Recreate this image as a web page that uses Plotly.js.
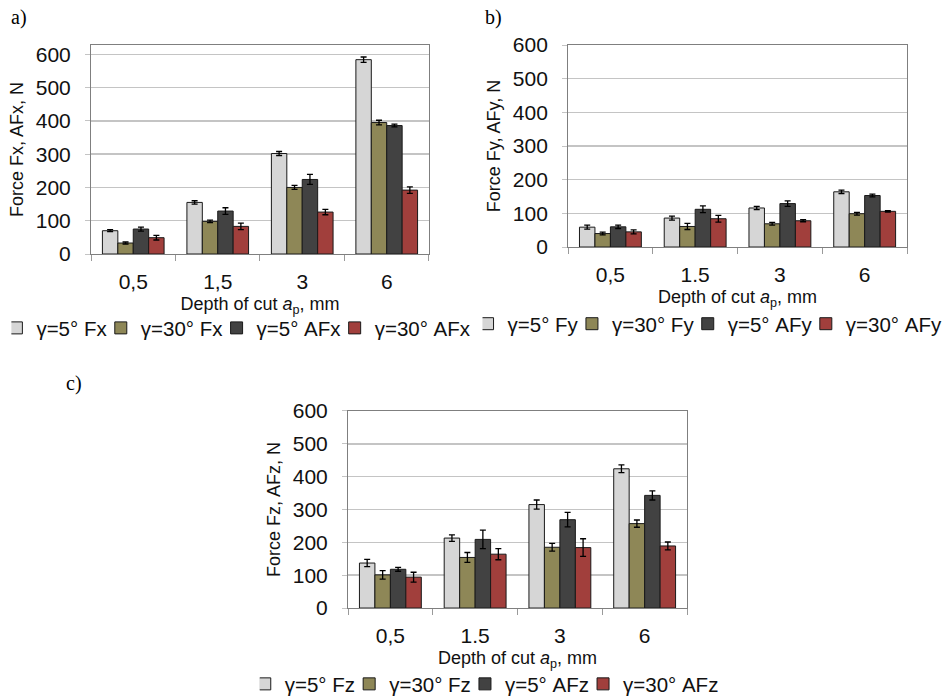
<!DOCTYPE html>
<html>
<head>
<meta charset="utf-8">
<script src="https://cdn.plot.ly/plotly-3.0.1.min.js"></script>
<style>html,body{margin:0;padding:0;background:#fff;}#chart{width:948px;height:698px;}</style>
</head>
<body>
<div id="chart"></div>
<script>
// Categories (depth of cut)
const categoriesA = ['0,5', '1,5', '3', '6'];
const categoriesB = ['0,5', '1.5', '3', '6'];
const categoriesC = ['0,5', '1.5', '3', '6'];

// a) Fx / AFx
const fx5 = [70, 155, 302, 584];
const fx5Err = [3, 5, 6, 8];
const fx30 = [33, 98, 200, 395];
const fx30Err = [3, 4, 6, 7];
const afx5 = [75, 129, 224, 386];
const afx5Err = [6, 10, 15, 4];
const afx30 = [49, 83, 126, 192];
const afx30Err = [7, 10, 8, 10];

// b) Fy / AFy
const fy5 = [59, 86, 116, 164];
const fy5Err = [6, 6, 5, 5];
const fy30 = [40, 61, 69, 99];
const fy30Err = [4, 9, 4, 4];
const afy5 = [60, 112, 129, 153];
const afy5Err = [5, 10, 8, 4];
const afy30 = [45, 84, 78, 106];
const afy30Err = [6, 10, 3, 2];

// c) Fz / AFz
const fz5 = [137, 213, 315, 424];
const fz5Err = [11, 10, 14, 12];
const fz30 = [101, 154, 185, 257];
const fz30Err = [13, 15, 12, 11];
const afz5 = [118, 209, 269, 343];
const afz5Err = [6, 28, 22, 14];
const afz30 = [94, 164, 184, 189];
const afz30Err = [15, 17, 27, 12];

const namesA = ['γ=5° Fx', 'γ=30° Fx', 'γ=5° AFx', 'γ=30° AFx'];
const namesB = ['γ=5° Fy', 'γ=30° Fy', 'γ=5° AFy', 'γ=30° AFy'];
const namesC = ['γ=5° Fz', 'γ=30° Fz', 'γ=5° AFz', 'γ=30° AFz'];

const colors = ['#d6d6d6', '#8e8757', '#424242', '#a13f3c'];
const FONT = 'Arial, "Liberation Sans", sans-serif';

function mk(cats, vals, errs, name, ci, xa, ya, leg) {
  return {
    type: 'bar', x: cats, y: vals,
    name: name + (ci < 3 ? '\u2009' : ''),   // small gap before the next legend swatch
    xaxis: xa, yaxis: ya, legend: leg,
    marker: {color: colors[ci], line: {color: '#1a1a1a', width: 1}},
    error_y: {type: 'data', array: errs, visible: true, color: '#000', thickness: 1.3, width: 3}
  };
}

const sets = [
  {cats: categoriesA, vals: [fx5, fx30, afx5, afx30], errs: [fx5Err, fx30Err, afx5Err, afx30Err], names: namesA, xa: 'x', ya: 'y', leg: 'legend'},
  {cats: categoriesB, vals: [fy5, fy30, afy5, afy30], errs: [fy5Err, fy30Err, afy5Err, afy30Err], names: namesB, xa: 'x2', ya: 'y2', leg: 'legend2'},
  {cats: categoriesC, vals: [fz5, fz30, afz5, afz30], errs: [fz5Err, fz30Err, afz5Err, afz30Err], names: namesC, xa: 'x3', ya: 'y3', leg: 'legend3'}
];
const data = [];
sets.forEach(s => {
  for (let i = 0; i < 4; i++) data.push(mk(s.cats, s.vals[i], s.errs[i], s.names[i], i, s.xa, s.ya, s.leg));
});

function xax(dom, anchor) {
  return {
    domain: dom, anchor: anchor, type: 'category', automargin: false,
    showline: true, linecolor: '#7f7f7f', linewidth: 1, mirror: true,
    ticks: 'outside', tickson: 'boundaries', ticklen: 6, tickcolor: '#9a9a9a',
    ticklabelstandoff: 9,
    tickfont: {family: FONT, size: 21, color: '#111'},
    showgrid: false,
    title: {text: 'Depth of cut <i>a</i><sub>p</sub>, mm', font: {family: FONT, size: 18, color: '#111'}, standoff: 5}
  };
}
function yax(dom, anchor, range, title) {
  return {
    domain: dom, anchor: anchor, range: range, dtick: 100, tick0: 0, automargin: false,
    showline: true, linecolor: '#7f7f7f', linewidth: 1, mirror: true,
    ticks: 'outside', ticklen: 5, tickcolor: '#c4c4c4',
    ticklabelstandoff: 10,
    showgrid: true, gridcolor: '#c4c4c4', gridwidth: 1.5,
    zeroline: false,
    tickfont: {family: FONT, size: 21, color: '#111'},
    title: {text: title, font: {family: FONT, size: 18, color: '#111'}, standoff: 7}
  };
}
function leg(x, y) {
  return {
    orientation: 'h', x: x, y: y, xanchor: 'left', yanchor: 'middle',
    font: {family: FONT, size: 20.5, color: '#111'}, itemwidth: 30, indentation: -15,
    bgcolor: 'rgba(0,0,0,0)', traceorder: 'normal', tracegroupgap: 0
  };
}

const layout = {
  width: 948, height: 698,
  margin: {l: 0, r: 0, t: 0, b: 0, autoexpand: false},
  paper_bgcolor: '#fff', plot_bgcolor: '#fff',
  barmode: 'group', bargap: 0.27, bargroupgap: 0,
  xaxis: xax([0.096, 0.4525], 'y'),
  yaxis: yax([0.6361, 0.9355], 'x', [0, 628], 'Force Fx, AFx, N'),
  xaxis2: xax([0.5992, 0.9568], 'y2'),
  yaxis2: yax([0.6461, 0.9355], 'x2', [0, 600], 'Force Fy, AFy, N'),
  xaxis3: xax([0.3671, 0.7247], 'y3'),
  yaxis3: yax([0.1289, 0.4112], 'x3', [0, 600], 'Force Fz, AFz, N'),
  legend: leg(0.012, 0.5300),
  legend2: leg(0.509, 0.5360),
  legend3: leg(0.274, 0.0200),
  showlegend: true,
  annotations: [
    {text: 'a)', x: 0.010, y: 1 - 18/698, xref: 'paper', yref: 'paper', xanchor: 'left', yanchor: 'middle', showarrow: false, font: {family: '"Liberation Serif", "Times New Roman", serif', size: 20, color: '#000'}},
    {text: 'b)', x: 483/948, y: 1 - 18/698, xref: 'paper', yref: 'paper', xanchor: 'left', yanchor: 'middle', showarrow: false, font: {family: '"Liberation Serif", "Times New Roman", serif', size: 20, color: '#000'}},
    {text: 'c)', x: 64/948, y: 1 - 383/698, xref: 'paper', yref: 'paper', xanchor: 'left', yanchor: 'middle', showarrow: false, font: {family: '"Liberation Serif", "Times New Roman", serif', size: 20, color: '#000'}}
  ]
};

Plotly.newPlot('chart', data, layout, {displayModeBar: false, staticPlot: true});
</script>
</body>
</html>
